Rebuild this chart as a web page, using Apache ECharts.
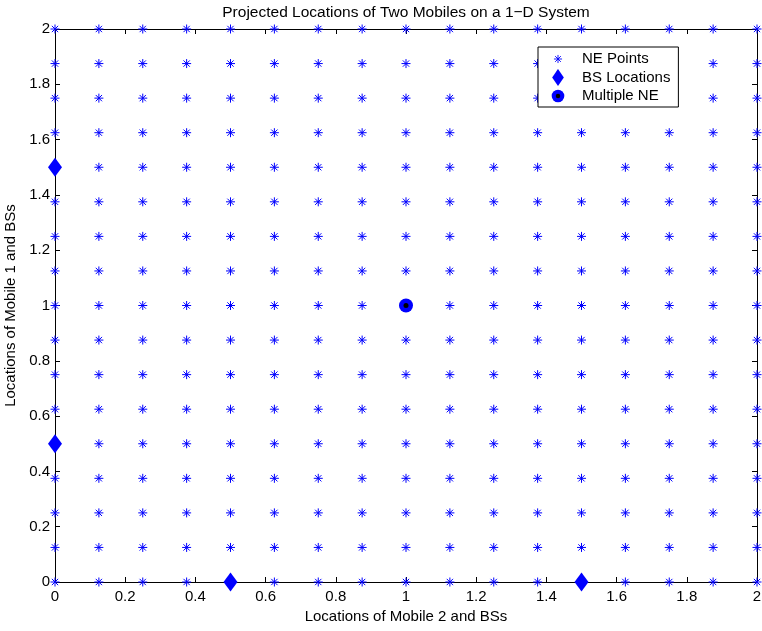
<!DOCTYPE html>
<html>
<head>
<meta charset="utf-8">
<script src="https://cdn.jsdelivr.net/npm/echarts@6/dist/echarts.min.js"></script>
<style>
  html, body { margin: 0; padding: 0; background: #fff; }
  #chart { width: 762px; height: 631px; }
</style>
</head>
<body>
<div id="chart"></div>
<script>
// Candidate positions for both mobiles along the 1-D line
const gridValues = [0, 0.125, 0.25, 0.375, 0.5, 0.625, 0.75, 0.875, 1,
                    1.125, 1.25, 1.375, 1.5, 1.625, 1.75, 1.875, 2];

// Base-station locations (Mobile 2 axis, Mobile 1 axis)
const bsMobile2 = [0, 0, 0.5, 1.5];
const bsMobile1 = [1.5, 0.5, 0, 0];

// Location where several equilibria coincide
const multiMobile2 = [1];
const multiMobile1 = [1];

// Axis tick labels
const tickValues = [0, 0.2, 0.4, 0.6, 0.8, 1, 1.2, 1.4, 1.6, 1.8, 2];
const tickLabels = ['0', '0.2', '0.4', '0.6', '0.8', '1', '1.2', '1.4', '1.6', '1.8', '2'];

const BLUE = '#0000ff';
const FONT = '"Liberation Sans", Arial, Helvetica, sans-serif';

const nePoints = [];
gridValues.forEach(function (m1) {
  gridValues.forEach(function (m2) { nePoints.push([m2, m1]); });
});
const bsPoints = bsMobile2.map(function (x, i) { return [x, bsMobile1[i]]; });
const multiPoints = multiMobile2.map(function (x, i) { return [x, multiMobile1[i]]; });

const starPath = 'path://M5,0L5,10M0,5L10,5M1.5,1.5L8.5,8.5M1.5,8.5L8.5,1.5';

function svgIcon(body) {
  const svg = '<svg xmlns="http://www.w3.org/2000/svg" width="20" height="20" viewBox="0 0 20 20">' + body + '</svg>';
  return 'image://data:image/svg+xml;charset=utf-8,' + encodeURIComponent(svg);
}
const starIcon = svgIcon('<g stroke="' + BLUE + '" stroke-width="1" fill="none">' +
  '<path d="M10,5.5V14.5M5.5,10H14.5M6.8,6.8L13.2,13.2M6.8,13.2L13.2,6.8"/></g>');
const diamondIcon = svgIcon('<path d="M10,0.5L16.5,10L10,19.5L3.5,10Z" fill="' + BLUE + '"/>');
const multiIcon = svgIcon('<circle cx="10" cy="10" r="7" fill="' + BLUE + '"/><circle cx="10" cy="10" r="2.5" fill="#000"/>');

function tickText(v) {
  const i = tickValues.findIndex(function (t) { return Math.abs(t - v) < 1e-9; });
  return i < 0 ? '' : tickLabels[i];
}

function valueAxis(pos, labelMargin, name, nameGap) {
  const ax = {
    type: 'value',
    position: pos,
    min: 0,
    max: 2,
    interval: 0.2,
    splitLine: { show: false },
    axisLine: { show: true, onZero: false, lineStyle: { color: '#000', width: 1 } },
    axisTick: { show: true, inside: true, length: 5, lineStyle: { color: '#000', width: 1 } },
    axisLabel: {
      show: labelMargin !== null,
      margin: labelMargin || 0,
      color: '#000',
      fontSize: 15,
      fontFamily: FONT,
      formatter: tickText
    }
  };
  if (name) {
    ax.name = name;
    ax.nameLocation = 'middle';
    ax.nameGap = nameGap;
    ax.nameTextStyle = { color: '#000', fontSize: 15, fontFamily: FONT };
  }
  return ax;
}

const chart = echarts.init(document.getElementById('chart'), null, { renderer: 'canvas' });
chart.setOption({
  animation: false,
  backgroundColor: '#fff',
  title: {
    text: 'Projected Locations of Two Mobiles on a 1\u2212D System',
    left: 401,
    textAlign: 'center',
    top: 0,
    textStyle: { fontSize: 15.5, fontWeight: 'normal', color: '#000', fontFamily: FONT }
  },
  grid: { left: 55, right: 5, top: 29, bottom: 49, containLabel: false, outerBoundsMode: 'none' },
  xAxis: [
    valueAxis('bottom', 7, 'Locations of Mobile 2 and BSs', 25),
    valueAxis('top', null)
  ],
  yAxis: [
    valueAxis('left', 5, 'Locations of Mobile 1 and BSs', 29),
    valueAxis('right', null)
  ],
  legend: {
    orient: 'vertical',
    left: 538,
    top: 47,
    backgroundColor: '#fff',
    borderColor: '#000',
    borderWidth: 1,
    borderRadius: 0,
    padding: [3, 8, 2, 10],
    itemWidth: 20,
    itemHeight: 18,
    itemGap: 0.5,
    itemTextGap: 14,
    textStyle: { fontSize: 15, color: '#000', fontFamily: FONT, padding: [0, 0, 0, 9] },
    selectedMode: false,
    data: [
      { name: 'NE Points', icon: starIcon },
      { name: 'BS Locations', icon: diamondIcon },
      { name: 'Multiple NE', icon: multiIcon }
    ]
  },
  series: [
    {
      name: 'NE Points',
      type: 'scatter',
      data: nePoints,
      symbol: starPath,
      symbolSize: 9,
      itemStyle: { color: 'rgba(0,0,0,0)', borderColor: BLUE, borderWidth: 1, opacity: 1 },
      z: 3
    },
    {
      name: 'BS Locations',
      type: 'scatter',
      data: bsPoints,
      symbol: 'diamond',
      symbolSize: [14, 19],
      itemStyle: { color: BLUE, opacity: 1 },
      z: 4
    },
    {
      name: 'Multiple NE',
      type: 'scatter',
      data: multiPoints,
      symbol: 'circle',
      symbolSize: 14,
      itemStyle: { color: BLUE, opacity: 1 },
      z: 5
    },
    {
      name: 'Multiple NE centre',
      type: 'scatter',
      data: multiPoints,
      symbol: 'circle',
      symbolSize: 5,
      itemStyle: { color: '#000', opacity: 1 },
      z: 6
    }
  ]
});
</script>
</body>
</html>
